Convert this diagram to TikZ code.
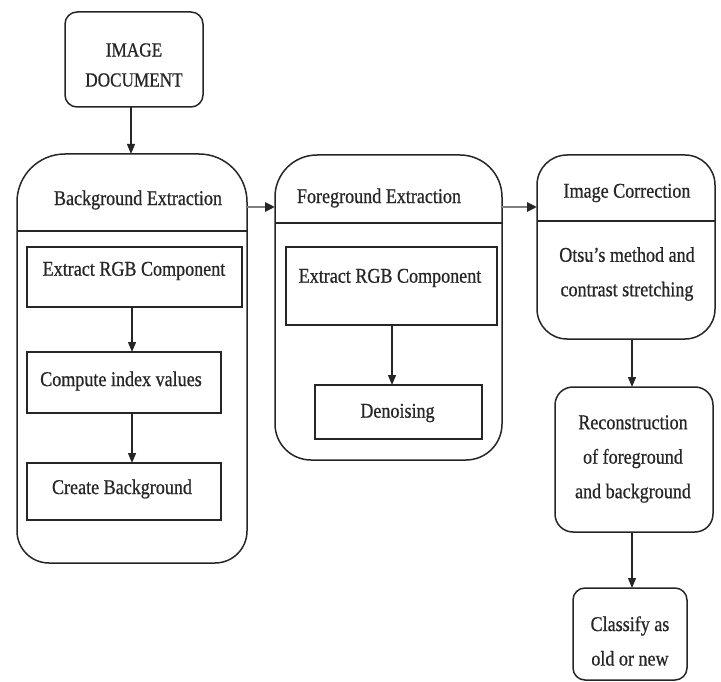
\documentclass[tikz,border=0pt]{standalone}
\usepackage{fontspec}
\setmainfont{Liberation Serif}[FakeStretch=0.86,FakeBold=0.6]
\usetikzlibrary{calc,arrows.meta}
\tikzset{
 boxline/.style={line width=1.5pt, draw=black!85},
 box/.style={boxline, rectangle, inner sep=0pt, outer sep=0pt, fill=white},
 frame/.style={rectangle, draw=none, inner sep=0pt, outer sep=0pt},
 lbl/.style={font=\fontsize{21}{34.5}\selectfont, align=center, inner sep=0pt, text=black!85},
 arr/.style={line width=1.2pt, draw=black!85, -{Triangle[length=10pt,width=8pt]}},
 harr/.style={line width=2.6pt, draw=black!50, -{Triangle[length=10pt,width=9pt,color=black!85]}}
}
\newcommand{\rrect}[3]{%
 \draw[boxline] ($(#1.north west)+(0,-#2pt)$) arc[start angle=180,end angle=90,radius=#2pt]
  -- ($(#1.north east)+(-#2pt,0)$) arc[start angle=90,end angle=0,radius=#2pt]
  -- ($(#1.south east)+(0,#3pt)$) arc[start angle=0,end angle=-90,radius=#3pt]
  -- ($(#1.south west)+(#3pt,0)$) arc[start angle=270,end angle=180,radius=#3pt]
  -- cycle;}
\begin{document}
\begin{tikzpicture}[x=1pt,y=1pt]
\useasboundingbox[fill=white] (0,0) rectangle (721,-682);
% helper coordinates
\coordinate (xa) at (131,0);
\coordinate (xb) at (132,0);
\coordinate (xc) at (392,0);
\coordinate (xd) at (632,0);
\coordinate (ya) at (0,-207);
\coordinate (d1) at (0,-231);
\coordinate (d2) at (0,-223);
\coordinate (d3) at (0,-221);

% image document
\node[box, rounded corners=12pt, minimum width=138pt, minimum height=95pt] (doc) at (134,-59.5) {};
\node[lbl, font=\fontsize{20}{30}\selectfont] (doct) at (134,-65) {IMAGE\\DOCUMENT};

% background extraction
\node[frame, minimum width=230pt, minimum height=409pt] (be) at (132,-358.5) {};
\rrect{be}{48}{32}
\draw[boxline] (be.west |- d1) -- (be.east |- d1);
\node[lbl] (bet) at (138,-200) {Background Extraction};
\node[box, minimum width=215pt, minimum height=60pt] (be1) at (134.5,-277) {};
\node[lbl] (be1t) at (134,-271) {Extract RGB Component};
\node[box, minimum width=194pt, minimum height=61pt] (be2) at (124,-382.5) {};
\node[lbl] (be2t) at (121,-381) {Compute index values};
\node[box, minimum width=194pt, minimum height=57pt] (be3) at (124,-491.5) {};
\node[lbl] (be3t) at (122,-489) {Create Background};

% foreground extraction
\node[frame, minimum width=227pt, minimum height=305pt] (fe) at (388.5,-307.5) {};
\rrect{fe}{42}{36}
\draw[boxline] (fe.west |- d2) -- (fe.east |- d2);
\node[lbl] (fet) at (379,-198) {Foreground Extraction};
\node[box, minimum width=211pt, minimum height=78pt] (fe1) at (391.5,-286) {};
\node[lbl] (fe1t) at (390,-278) {Extract RGB Component};
\node[box, minimum width=167pt, minimum height=54pt] (fe2) at (398.5,-412) {};
\node[lbl] (fe2t) at (397.5,-413) {Denoising};

% image correction
\node[box, rounded corners=30pt, minimum width=178pt, minimum height=184pt] (ic) at (626,-247) {};
\draw[boxline] (ic.west |- d3) -- (ic.east |- d3);
\node[lbl] (ict) at (627,-193) {Image Correction};
\node[lbl] (ic1t) at (627,-274) {Otsu’s method and\\contrast stretching};

% reconstruction and classify
\node[box, rounded corners=18pt, minimum width=158pt, minimum height=145pt] (rec) at (634,-459.5) {};
\node[lbl] (rect) at (633,-459) {Reconstruction\\of foreground\\and background};
\node[box, rounded corners=12pt, minimum width=114pt, minimum height=92pt] (cls) at (630,-634) {};
\node[lbl] (clst) at (630,-641) {Classify as\\old or new};

% connectors
\draw[arr] (doc.south -| xa) -- (be.north -| xa);
\draw[arr] (be1.south -| xb) -- (be2.north -| xb);
\draw[arr] (be2.south -| xb) -- (be3.north -| xb);
\draw[arr] (fe1.south -| xc) -- (fe2.north -| xc);
\draw[arr] (ic.south -| xd) -- (rec.north -| xd);
\draw[arr] (rec.south -| xd) -- (cls.north -| xd);
\draw[harr] (be.east |- ya) -- (fe.west |- ya);
\draw[harr] (fe.east |- ya) -- (ic.west |- ya);
\end{tikzpicture}
\end{document}
